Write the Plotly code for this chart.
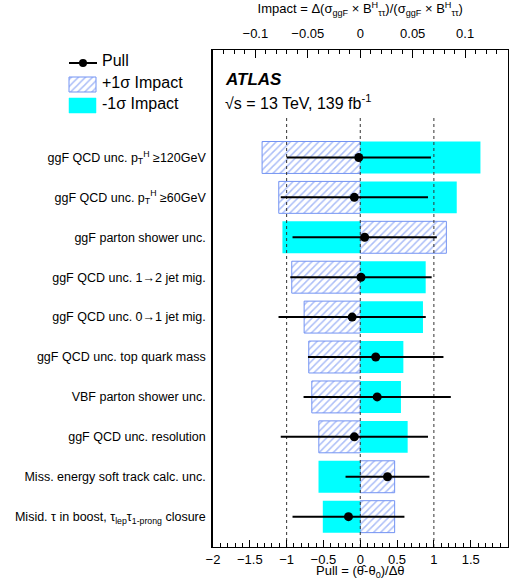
import plotly.graph_objects as go

# Nuisance-parameter ranking: labels from top to bottom
labels = [
    "ggF QCD unc. p<sub>T</sub><sup>H</sup> ≥120GeV",
    "ggF QCD unc. p<sub>T</sub><sup>H</sup> ≥60GeV",
    "ggF parton shower unc.",
    "ggF QCD unc. 1→2 jet mig.",
    "ggF QCD unc. 0→1 jet mig.",
    "ggF QCD unc. top quark mass",
    "VBF parton shower unc.",
    "ggF QCD unc. resolution",
    "Miss. energy soft track calc. unc.",
    "Misid. τ in boost, τ<sub>lep</sub>τ<sub>1-prong</sub> closure",
]
impact_up = [-0.0936, -0.0777, 0.0821, -0.0653, -0.0535, -0.0491, -0.0462, -0.0395, 0.0328, 0.0328]
impact_down = [0.1146, 0.0920, -0.0742, 0.0624, 0.0598, 0.0411, 0.0388, 0.0452, -0.0398, -0.0357]
pull = [-0.02, -0.08, 0.06, 0.01, -0.11, 0.21, 0.23, -0.08, 0.37, -0.16]
pull_err = [0.98, 1.00, 0.98, 0.96, 1.00, 0.92, 1.00, 1.00, 0.57, 0.76]
ref_pulls = [-1, 0, 1]

W, H = 509, 581
FONT = "Liberation Sans, Arial, sans-serif"
HATCH_FG = "#5a7ef0"
HATCH_EDGE = "#7393f3"
CYAN = "#00ffff"
HATCH = dict(shape="/", fgcolor=HATCH_FG, bgcolor="white", size=5, solidity=0.3)

n = len(labels)
pos = [n - 1 - i for i in range(n)]
y_lo, y_hi = -0.76, 11.705

# plot frame in pixels
px_l, px_r, py_t, py_b = 213, 507.5, 49.5, 547
xdom = [px_l / W, px_r / W]
ydom = [1 - py_b / H, 1 - py_t / H]

fig = go.Figure()

# impact bars (top axis)
fig.add_trace(go.Bar(
    y=pos, x=impact_up, orientation="h", width=0.8,
    marker=dict(color="white", line=dict(color=HATCH_EDGE, width=1), pattern=HATCH),
    xaxis="x", yaxis="y", showlegend=False,
))
fig.add_trace(go.Bar(
    y=pos, x=impact_down, orientation="h", width=0.8,
    marker=dict(color=CYAN, line=dict(width=0)),
    xaxis="x", yaxis="y", showlegend=False,
))

# dashed reference lines on the pull axis
for v in ref_pulls:
    fig.add_trace(go.Scatter(
        x=[v, v], y=[y_lo, n], mode="lines",
        line=dict(color="#333333", width=1, dash="3px,3px"),
        xaxis="x2", yaxis="y", showlegend=False, hoverinfo="skip",
    ))

# pulls with their constraints
fig.add_trace(go.Scatter(
    x=pull, y=pos, mode="markers",
    marker=dict(size=9, color="black"),
    error_x=dict(type="data", array=pull_err, color="black", thickness=2, width=0),
    xaxis="x2", yaxis="y", showlegend=False,
))

# legend swatches drawn on a full-figure pixel axis
fig.add_trace(go.Scatter(
    x=[69, 97], y=[63, 63], mode="lines", line=dict(color="black", width=2),
    xaxis="x3", yaxis="y3", showlegend=False, hoverinfo="skip",
))
fig.add_trace(go.Scatter(
    x=[83], y=[63], mode="markers", marker=dict(size=8, color="black"),
    xaxis="x3", yaxis="y3", showlegend=False, hoverinfo="skip",
))
fig.add_trace(go.Scatter(
    x=[69, 96, 96, 69, 69], y=[77, 77, 92, 92, 77], mode="lines", fill="toself",
    fillcolor="white", fillpattern=HATCH,
    line=dict(color=HATCH_EDGE, width=1),
    xaxis="x3", yaxis="y3", showlegend=False, hoverinfo="skip",
))
fig.add_trace(go.Scatter(
    x=[69, 96, 96, 69, 69], y=[98, 98, 113, 113, 98], mode="lines", fill="toself",
    fillcolor=CYAN, line=dict(color=CYAN, width=0.5),
    xaxis="x3", yaxis="y3", showlegend=False, hoverinfo="skip",
))

axis_common = dict(showgrid=False, zeroline=False, showline=True, linecolor="black",
                   linewidth=1, ticks="inside", tickcolor="black", tickwidth=1,
                   automargin=False)

fig.update_layout(
    width=W, height=H,
    margin=dict(l=0, r=0, t=0, b=0, autoexpand=False),
    paper_bgcolor="white", plot_bgcolor="rgba(0,0,0,0)",
    font=dict(family=FONT, color="black"),
    barmode="overlay",
    xaxis=dict(
        **axis_common, domain=xdom, anchor="y", side="top",
        range=[-0.1404, 0.1404], tickmode="linear", tick0=0, dtick=0.05, ticklen=8,
        minor=dict(ticks="inside", ticklen=4, dtick=0.01, tickcolor="black"),
        tickfont=dict(size=13), ticklabelstandoff=5,
        title=dict(text="Impact = Δ(σ<sub>ggF</sub> × B<sup>H</sup><sub>ττ</sub>)/(σ<sub>ggF</sub> × B<sup>H</sup><sub>ττ</sub>)",
                   font=dict(size=13)),
    ),
    xaxis2=dict(
        **axis_common, overlaying="x", anchor="y", side="bottom",
        range=[-2, 2], tickmode="linear", tick0=0, dtick=0.5, ticklen=7,
        minor=dict(ticks="inside", ticklen=4, dtick=0.1, tickcolor="black"),
        tickfont=dict(size=13),
    ),
    yaxis=dict(
        showgrid=False, zeroline=False, showline=True, mirror=True,
        linecolor="black", linewidth=1.5, ticks="", automargin=False,
        domain=ydom, anchor="x", range=[y_lo, y_hi],
        tickmode="array", tickvals=pos, ticktext=labels, tickfont=dict(size=12.5),
        ticklabelstandoff=3,
    ),
    xaxis3=dict(domain=[0, 1], range=[0, W], visible=False, anchor="y3", automargin=False),
    yaxis3=dict(domain=[0, 1], range=[H, 0], visible=False, anchor="x3", automargin=False),
    annotations=[
        dict(text="Pull = (θ\u0302-θ<sub>0</sub>)/Δθ", x=(px_l + px_r) / 2 / W, y=0,
             xref="paper", yref="paper", xanchor="center", yanchor="bottom",
             showarrow=False, font=dict(size=13), borderpad=0),
        dict(text="Pull", x=100 / W, y=1 - 61 / H, xref="paper", yref="paper",
             xanchor="left", yanchor="middle", showarrow=False, font=dict(size=16)),
        dict(text="+1σ Impact", x=100 / W, y=1 - 83 / H, xref="paper", yref="paper",
             xanchor="left", yanchor="middle", showarrow=False, font=dict(size=16)),
        dict(text="-1σ Impact", x=100 / W, y=1 - 104 / H, xref="paper", yref="paper",
             xanchor="left", yanchor="middle", showarrow=False, font=dict(size=16)),
        dict(text="<b><i>ATLAS</i></b>", x=223 / W, y=1 - 79 / H, xref="paper", yref="paper",
             xanchor="left", yanchor="middle", showarrow=False, font=dict(size=17)),
        dict(text="√s = 13 TeV, 139 fb<sup>-1</sup>", x=223 / W, y=1 - 102 / H,
             xref="paper", yref="paper", xanchor="left", yanchor="middle",
             showarrow=False, font=dict(size=16)),
    ],
)

fig.write_html("out.html")
